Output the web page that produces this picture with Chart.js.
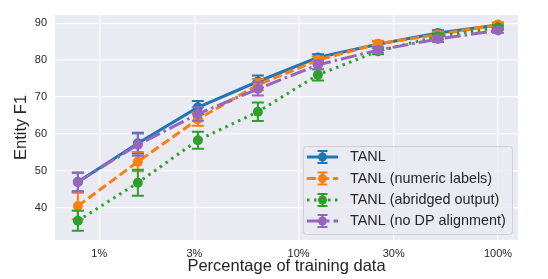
<!DOCTYPE html>
<html>
<head>
<meta charset="utf-8">
<script src="https://cdn.jsdelivr.net/npm/chart.js@4.4.1/dist/chart.umd.min.js"></script>
<style>
    html, body { margin: 0; padding: 0; background: #ffffff; }
    canvas { display: block; }
</style>
</head>
<body>
<canvas id="f1Chart" width="548" height="279"></canvas>
<script>
// fraccion de datos de entrenamiento (%)
const fractions = [0.78125, 1.5625, 3.125, 6.25, 12.5, 25, 50, 100];
const xTickValues = [1, 3, 10, 30, 100];
const yTickValues = [40, 50, 60, 70, 80, 90];

const seriesNames = ['TANL', 'TANL (numeric labels)', 'TANL (abridged output)', 'TANL (no DP alignment)'];
const tanl = [47.0, 57.5, 67.2, 74.2, 80.7, 84.3, 87.3, 89.5];
const tanlNumeric = [40.5, 52.5, 64.0, 73.3, 80.0, 84.4, 86.9, 89.6];
const tanlAbridged = [36.5, 46.8, 58.3, 66.0, 76.0, 82.4, 86.4, 88.8];
const tanlNoDP = [47.0, 57.1, 65.4, 72.2, 78.7, 82.7, 85.7, 88.0];

// desviaciones (barras de error)
const tanlErr = [2.5, 2.8, 1.7, 1.6, 0.9, 0.8, 0.8, 0.6];
const tanlNumericErr = [3.6, 2.6, 1.8, 1.5, 1.0, 0.8, 0.8, 0.6];
const tanlAbridgedErr = [2.7, 3.5, 2.3, 2.5, 1.5, 0.8, 0.8, 0.6];
const tanlNoDPErr = [2.6, 3.0, 1.8, 1.8, 1.2, 0.8, 0.8, 0.6];

const colors = ['#1f77b4', '#ff7f0e', '#2ca02c', '#9467bd'];
const dashes = [[], [9, 4], [2.5, 4.5], [16, 4, 2.5, 4]];
const textColor = '#262626';
const fontFamily = '"Liberation Sans", Arial, sans-serif';

const allValues = [tanl, tanlNumeric, tanlAbridged, tanlNoDP];
const allErrors = [tanlErr, tanlNumericErr, tanlAbridgedErr, tanlNoDPErr];

function buildDataset(i) {
    return {
        label: seriesNames[i],
        data: fractions.map((x, k) => ({ x: x, y: allValues[i][k] })),
        errors: allErrors[i],
        borderColor: colors[i],
        backgroundColor: colors[i],
        borderWidth: 3,
        borderDash: dashes[i],
        borderCapStyle: 'butt',
        pointRadius: 5,
        pointBorderWidth: 0,
        pointBackgroundColor: colors[i],
        tension: 0,
        fill: false,
        order: 3 - i // morado encima
    };
}

//fondo del area de la grafica
const backgroundPlugin = {
    id: 'plotBackground',
    beforeDraw(chart) {
        const { ctx, chartArea } = chart;
        ctx.save();
        ctx.fillStyle = '#eaeaf2';
        ctx.fillRect(chartArea.left, chartArea.top, chartArea.right - chartArea.left, chartArea.bottom - chartArea.top);
        ctx.restore();
    }
};

//barras de error por dataset
const errorBarPlugin = {
    id: 'errorBars',
    beforeDatasetDraw(chart, args) {
        const ds = chart.data.datasets[args.index];
        const xs = chart.scales.x;
        const ys = chart.scales.y;
        const ctx = chart.ctx;
        ctx.save();
        ctx.strokeStyle = ds.borderColor;
        ctx.lineWidth = 2;
        ctx.setLineDash([]);
        ds.data.forEach((p, k) => {
            const e = ds.errors[k];
            const px = xs.getPixelForValue(p.x);
            const top = ys.getPixelForValue(p.y + e);
            const bot = ys.getPixelForValue(p.y - e);
            ctx.beginPath();
            ctx.moveTo(px, top);
            ctx.lineTo(px, bot);
            ctx.moveTo(px - 6, top);
            ctx.lineTo(px + 6, top);
            ctx.moveTo(px - 6, bot);
            ctx.lineTo(px + 6, bot);
            ctx.stroke();
        });
        ctx.restore();
    }
};

//leyenda dentro del area
const legendPlugin = {
    id: 'insideLegend',
    afterDraw(chart) {
        const ctx = chart.ctx;
        const box = { x: 303, y: 146, w: 209, h: 88 };
        ctx.save();
        ctx.fillStyle = 'rgba(234, 234, 242, 0.8)';
        ctx.strokeStyle = '#cfcfd6';
        ctx.lineWidth = 1;
        ctx.beginPath();
        ctx.roundRect(box.x + 0.5, box.y + 0.5, box.w, box.h, 3);
        ctx.fill();
        ctx.stroke();

        const rows = [157, 178.5, 200, 221];
        chart.data.datasets.forEach((ds, i) => {
            const y = rows[i];
            ctx.strokeStyle = ds.borderColor;
            ctx.lineWidth = 3;
            ctx.lineCap = 'butt';
            ctx.setLineDash(ds.borderDash);
            ctx.beginPath();
            ctx.moveTo(307, y);
            ctx.lineTo(338, y);
            ctx.stroke();
            ctx.setLineDash([]);
            ctx.lineWidth = 2;
            ctx.beginPath();
            ctx.moveTo(322.5, y - 6);
            ctx.lineTo(322.5, y + 6);
            ctx.moveTo(317.5, y - 6);
            ctx.lineTo(327.5, y - 6);
            ctx.moveTo(317.5, y + 6);
            ctx.lineTo(327.5, y + 6);
            ctx.stroke();
            ctx.fillStyle = ds.borderColor;
            ctx.beginPath();
            ctx.arc(322.5, y, 4.5, 0, Math.PI * 2);
            ctx.fill();

            ctx.fillStyle = textColor;
            ctx.font = '14.4px ' + fontFamily;
            ctx.textAlign = 'left';
            ctx.textBaseline = 'middle';
            ctx.fillText(ds.label, 350, y + 0.5);
        });
        ctx.restore();
    }
};

//titulos de ejes
const axisTitlePlugin = {
    id: 'axisTitles',
    afterDraw(chart) {
        const { ctx, chartArea } = chart;
        ctx.save();
        ctx.fillStyle = textColor;
        ctx.font = '16.5px ' + fontFamily;
        ctx.textAlign = 'center';
        ctx.textBaseline = 'middle';
        ctx.fillText('Percentage of training data', (chartArea.left + chartArea.right) / 2, 266);
        ctx.translate(21, (chartArea.top + chartArea.bottom) / 2);
        ctx.rotate(-Math.PI / 2);
        ctx.fillText('Entity F1', 0, 0);
        ctx.restore();
    }
};

function renderF1Chart() {
    const ctx = document.getElementById('f1Chart');
    const tickFont = { family: fontFamily, size: 11 };

    new Chart(ctx, {
        type: 'line',
        data: {
            datasets: seriesNames.map((_, i) => buildDataset(i))
        },
        options: {
            responsive: false,
            animation: false,
            layout: { padding: { left: 0, right: 30, top: 15, bottom: 0 } },
            scales: {
                x: {
                    type: 'logarithmic',
                    min: 0.62,
                    max: 126,
                    afterBuildTicks: s => { s.ticks = xTickValues.map(v => ({ value: v })); },
                    afterFit: s => { s.height = 39; },
                    grid: { color: '#ffffff', lineWidth: 1.2, drawTicks: false },
                    border: { display: false },
                    ticks: {
                        callback: v => v + '%',
                        font: tickFont,
                        color: textColor,
                        padding: 7,
                        maxRotation: 0,
                        autoSkip: false
                    }
                },
                y: {
                    type: 'linear',
                    min: 31.3,
                    max: 92.2,
                    afterBuildTicks: s => { s.ticks = yTickValues.map(v => ({ value: v })); },
                    afterFit: s => { s.width = 55; },
                    grid: { color: '#ffffff', lineWidth: 1.2, drawTicks: false },
                    border: { display: false },
                    ticks: {
                        font: tickFont,
                        color: textColor,
                        padding: 8
                    }
                }
            },
            plugins: {
                legend: { display: false },
                tooltip: { enabled: false }
            }
        },
        plugins: [backgroundPlugin, errorBarPlugin, legendPlugin, axisTitlePlugin]
    });
}

renderF1Chart();
</script>
</body>
</html>
